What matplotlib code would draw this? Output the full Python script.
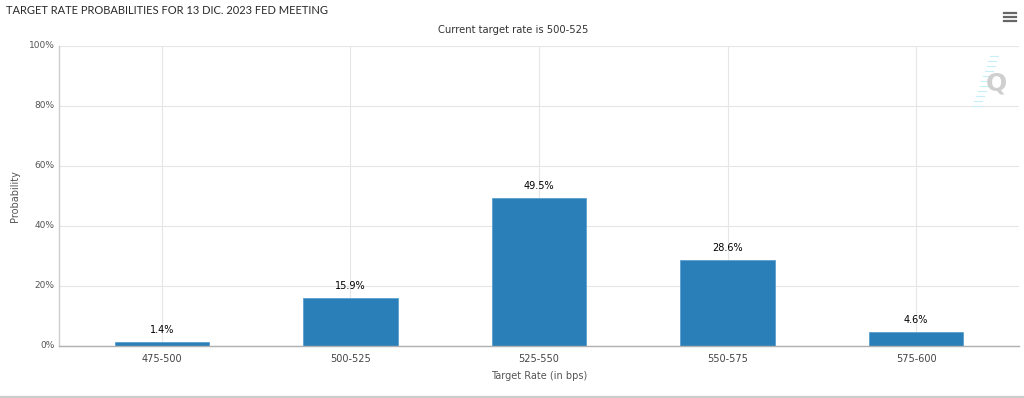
import matplotlib
matplotlib.use("Agg")
import matplotlib.pyplot as plt
from matplotlib.lines import Line2D

categories = ["475-500", "500-525", "525-550", "550-575", "575-600"]
probabilities = [1.4, 15.9, 49.5, 28.6, 4.6]
value_labels = ["1.4%", "15.9%", "49.5%", "28.6%", "4.6%"]
y_ticks = [0, 20, 40, 60, 80, 100]
y_tick_labels = ["0%", "20%", "40%", "60%", "80%", "100%"]

W, H = 1024, 398
fig = plt.figure(figsize=(W / 100, H / 100), dpi=100)
fig.patch.set_facecolor("white")

ax = fig.add_axes([59 / W, 52 / H, 960 / W, 300 / H])
ax.set_facecolor("white")

bar_color = "#2a7fb8"
x = list(range(len(categories)))
ax.bar(x, probabilities, width=0.5, color=bar_color, edgecolor="#5b9fcf",
       linewidth=0.6, zorder=3)

for xi, v, lab in zip(x, probabilities, value_labels):
    ax.annotate(lab, (xi, v), xytext=(0, 5), textcoords="offset points",
                ha="center", va="bottom", fontsize=7, color="#000000", zorder=4)

ax.set_xlim(-0.545, 4.545)
ax.set_ylim(0, 100)
ax.set_yticks(y_ticks)
ax.set_yticklabels(y_tick_labels)
ax.set_xticks(x)
ax.set_xticklabels(categories)
ax.tick_params(axis="y", length=0, labelsize=6.5, labelcolor="#555555", pad=3)
ax.tick_params(axis="x", length=0, labelsize=7, labelcolor="#444444", pad=6)
for lab in ax.get_yticklabels():
    lab.set_verticalalignment("center")

ax.grid(True, axis="both", color="#e6e6e6", linewidth=0.8, zorder=0)
ax.set_axisbelow(True)
for s in ["top", "right"]:
    ax.spines[s].set_visible(False)
ax.spines["left"].set_color("#cccccc")
ax.spines["left"].set_linewidth(1.0)
ax.spines["bottom"].set_color("#b0b0b0")
ax.spines["bottom"].set_linewidth(1.0)
ax.spines["bottom"].set_zorder(5)

ax.set_xlabel("Target Rate (in bps)", fontsize=7, color="#555555", labelpad=5)
ax.set_ylabel("Probability", fontsize=7, color="#555555")
ax.yaxis.set_label_coords((20 - 59) / 960, (346 - 196) / 300)

fig.text(6 / W, 1 - 11 / H, "TARGET RATE PROBABILITIES FOR 13 DIC. 2023 FED MEETING",
         ha="left", va="center", fontsize=8.0, color="#2a2a2a", family="Lato")
fig.text(513 / W, 1 - 30 / H, "Current target rate is 500-525",
         ha="center", va="center", fontsize=7.2, color="#333333")

# hamburger menu icon
for yy in [13, 17, 21]:
    fig.add_artist(Line2D([1004 / W, 1016 / W], [1 - yy / H, 1 - yy / H],
                          color="#666666", linewidth=1.6))

# watermark
fig.text(996 / W, 1 - 83 / H, "Q", ha="center", va="center", fontsize=18,
         fontweight="bold", color="#cfcfcf")
for yy in range(56, 110, 5):
    x0 = 990 - (yy - 56) * 0.35
    fig.add_artist(Line2D([x0 / W, (x0 + 8) / W], [1 - yy / H, 1 - yy / H],
                          color="#c8eef8", linewidth=0.8))

# bottom border line
fig.add_artist(Line2D([0, 1], [1 - 396.5 / H, 1 - 396.5 / H], color="#cccccc", linewidth=1.6))

fig.savefig("out.png", dpi=100, facecolor="white")
